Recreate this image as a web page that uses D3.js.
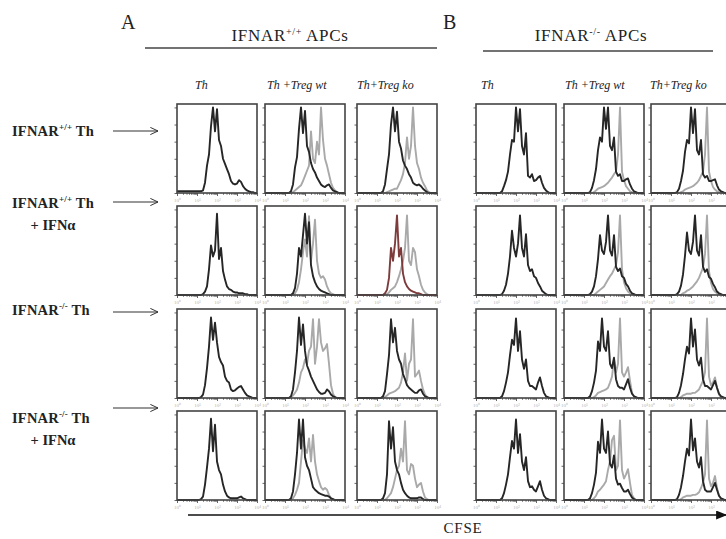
<!DOCTYPE html>
<html><head><meta charset="utf-8">
<script src="https://cdn.jsdelivr.net/npm/d3@7"></script>
<style>
html,body{margin:0;padding:0;background:#fff;}
svg{display:block;}
</style></head><body>
<svg id="fig" width="726" height="539"></svg>
<script>
// ---- data -------------------------------------------------------------
// CFSE bin positions, log10 fluorescence; every histogram below is read on these bins
const cfseBins = [0, 1.0, 1.1, 1.2, 1.3, 1.4, 1.5, 1.6, 1.7, 1.8, 1.9, 2.0, 2.1, 2.2, 2.3, 2.4,
  2.5, 2.6, 2.7, 2.8, 2.9, 3.0, 3.1, 3.2, 3.3, 3.4, 3.5, 3.6, 3.7, 3.8, 3.9, 4.0];
const decadeTicks = [1, 10, 100, 1000, 10000];
const decadeLabels = ["10\u2070", "10\u00b9", "10\u00b2", "10\u00b3", "10\u2074"];

const panelLetters = ["A", "B"];
const groupTitles = [{ main: "IFNAR", sup: "+/+", tail: " APCs" }, { main: "IFNAR", sup: "-/-", tail: " APCs" }];
const columnLabels = ["Th", "Th +Treg wt", "Th+Treg ko", "Th", "Th +Treg wt", "Th+Treg ko"];
const rowLabels = [
  { main: "IFNAR", sup: "+/+", tail: " Th", second: null },
  { main: "IFNAR", sup: "+/+", tail: " Th", second: "+ IFN\u03b1" },
  { main: "IFNAR", sup: "-/-", tail: " Th", second: null },
  { main: "IFNAR", sup: "-/-", tail: " Th", second: "+ IFN\u03b1" }
];
const axisTitle = "CFSE";

// % of max events per bin. "th" = responder Th cells, "tr" = Th cells co-cultured with Treg
// group A: IFNAR+/+ APCs
const thA11 = [2,2,2,2, 3,12,32,45,78,100,72,98,62,55,40,34,28,22,14,11,10,11,15,13,8,5,3,2,1,1,0,0];
const thA12 = [0,0,0,0, 2,10,30,42,75,100,70,96,55,48,35,28,24,18,14,10,8,7,9,10,6,3,2,1,0,0,0,0];
const trA12 = [0,0,0,0, 0,1,3,5,7,9,14,20,26,32,72,40,35,60,45,100,62,40,32,22,12,6,3,1,0,0,0,0];
const thA13 = [0,0,0,0, 2,10,28,45,80,100,72,95,60,52,38,32,28,22,18,12,10,9,10,8,5,3,1,0,0,0,0,0];
const trA13 = [0,0,0,0, 0,0,1,2,3,4,5,5,10,15,22,35,65,40,55,100,55,35,28,18,12,8,3,1,0,0,0,0];
const thA21 = [0,0,0,0, 1,4,10,30,58,45,52,95,42,55,28,18,10,7,6,4,3,3,2,2,2,1,1,0,0,0,0,0];
const thA22 = [0,0,0,0, 0,2,8,25,55,45,70,95,60,85,35,22,15,10,7,5,4,3,2,1,0,0,0,0,0,0,0,0];
const trA22 = [0,0,0,0, 0,0,2,6,15,30,50,65,45,92,40,60,88,40,25,20,22,18,10,5,2,1,0,0,0,0,0,0];
const thA23 = [0,0,0,0, 0,2,6,20,55,40,60,93,45,55,25,15,10,7,5,4,3,2,2,1,0,0,0,0,0,0,0,0];
const trA23 = [0,0,0,0, 0,0,1,3,6,8,10,15,22,30,40,55,93,40,35,55,50,30,22,12,6,3,1,0,0,0,0,0];
const thA31 = [0,0,0,1, 4,15,35,60,94,68,88,65,48,42,38,25,20,18,10,8,9,11,13,14,10,6,3,2,1,0,0,0];
const thA32 = [0,0,0,0, 2,10,30,55,94,62,86,55,38,32,25,20,15,10,7,5,5,6,10,8,4,2,1,0,0,0,0,0];
const trA32 = [0,0,0,0, 1,3,6,10,18,30,35,45,40,55,60,92,40,60,92,65,55,58,63,40,15,5,1,0,0,0,0,0];
const thA33 = [0,0,0,0, 2,8,28,50,92,65,82,55,45,40,28,22,15,12,10,8,6,6,9,10,5,2,1,0,0,0,0,0];
const trA33 = [0,0,0,0, 0,1,3,5,6,7,8,10,12,18,30,52,20,40,45,92,25,28,32,20,10,4,1,0,0,0,0,0];
const thA41 = [0,0,0,1, 4,18,38,60,95,57,88,45,35,30,18,10,5,3,2,2,2,2,3,4,2,1,0,0,0,0,0,0];
const thA42 = [0,0,0,0, 2,10,30,55,94,60,94,50,40,35,25,15,12,10,8,7,6,5,5,4,2,1,0,0,0,0,0,0];
const trA42 = [0,0,0,0, 0,2,6,12,20,45,70,60,55,72,45,76,45,30,22,15,12,14,12,6,2,1,0,0,0,0,0,0];
const thA43 = [0,0,0,0, 2,8,30,92,60,85,45,35,30,20,12,8,5,3,2,2,2,2,3,3,1,0,0,0,0,0,0,0];
const trA43 = [0,0,0,0, 0,0,2,5,8,15,25,35,40,60,45,92,35,30,42,40,25,15,18,20,10,3,1,0,0,0,0,0];
// group B: IFNAR-/- APCs
const thB11 = [0,0,0,0, 2,8,15,25,45,62,60,100,72,98,55,45,70,20,18,22,14,15,18,20,12,6,3,1,0,0,0,0];
const thB12 = [0,0,0,0, 1,6,15,28,50,65,60,100,75,100,55,50,65,25,20,22,14,14,16,17,10,5,2,1,0,0,0,0];
const trB12 = [0,0,0,0, 0,0,1,3,5,6,7,8,10,12,15,18,22,25,45,100,25,15,8,5,2,1,0,0,0,0,0,0];
const thB13 = [0,0,0,0, 1,5,14,26,48,62,58,100,70,98,50,45,62,22,18,20,14,14,15,16,9,4,2,1,0,0,0,0];
const trB13 = [0,0,0,0, 0,0,1,2,4,5,6,7,8,10,12,15,20,25,45,100,25,14,7,4,2,1,0,0,0,0,0,0];
const thB21 = [0,0,0,0, 1,5,12,25,45,75,55,45,60,93,55,45,71,35,28,30,22,20,14,10,5,3,1,0,0,0,0,0];
const thB22 = [0,0,0,0, 1,4,10,22,42,70,52,48,62,93,52,46,70,33,28,31,22,20,13,10,5,2,1,0,0,0,0,0];
const trB22 = [0,0,0,0, 0,0,0,2,4,6,8,10,14,18,22,25,30,35,50,93,30,15,8,4,2,1,0,0,0,0,0,0];
const thB23 = [0,0,0,0, 1,4,11,24,46,73,52,48,62,93,52,46,70,33,27,30,21,19,13,9,4,2,1,0,0,0,0,0];
const trB23 = [0,0,0,0, 0,0,0,2,3,5,6,8,10,13,16,20,26,32,48,93,28,14,7,4,2,1,0,0,0,0,0,0];
const thB31 = [0,0,0,0, 2,8,18,30,50,68,62,93,55,78,45,34,45,20,14,14,12,10,18,24,14,6,2,1,0,0,0,0];
const thB32 = [0,0,0,0, 2,8,18,32,66,55,93,60,55,78,40,35,47,22,14,12,12,10,16,22,12,5,2,1,0,0,0,0];
const trB32 = [0,0,0,0, 0,0,1,3,6,7,8,9,10,12,18,25,45,30,40,93,30,25,30,36,20,6,2,0,0,0,0,0];
const thB33 = [0,0,0,0, 1,6,15,28,45,60,52,93,60,80,45,38,47,22,14,14,12,10,15,20,12,5,2,1,0,0,0,0];
const trB33 = [0,0,0,0, 0,0,1,3,4,5,5,5,6,6,8,10,15,20,30,93,25,15,18,24,12,4,1,0,0,0,0,0];
const thB41 = [0,0,0,0, 2,8,18,30,50,69,60,94,55,77,45,35,50,22,15,16,12,10,16,22,12,5,2,1,0,0,0,0];
const thB42 = [0,0,0,0, 2,8,18,32,68,55,94,60,55,80,42,38,52,25,18,19,14,10,10,12,7,3,1,0,0,0,0,0];
const trB42 = [0,0,0,0, 0,0,2,5,10,12,15,18,22,35,45,70,75,35,40,93,35,25,30,36,20,6,2,0,0,0,0,0];
const thB43 = [0,0,0,0, 1,6,15,28,45,60,52,94,58,72,45,38,50,22,12,10,10,10,15,20,12,5,2,1,0,0,0,0];
const trB43 = [0,0,0,0, 0,0,1,3,4,5,5,5,6,6,7,9,14,20,30,93,25,16,20,28,14,5,1,0,0,0,0,0];

// grid of histograms: row = Th genotype / treatment, col = culture condition
const gridSeries = [
  [[thA11, null], [thA12, trA12], [thA13, trA13], [thB11, null], [thB12, trB12], [thB13, trB13]],
  [[thA21, null], [thA22, trA22], [thA23, trA23], [thB21, null], [thB22, trB22], [thB23, trB23]],
  [[thA31, null], [thA32, trA32], [thA33, trA33], [thB31, null], [thB32, trB32], [thB33, trB33]],
  [[thA41, null], [thA42, trA42], [thA43, trA43], [thB41, null], [thB42, trB42], [thB43, trB43]]
];

// ---- layout -----------------------------------------------------------
const W = 726, H = 539;
const colX = [177, 265, 357, 476, 564, 651];
const rowY = [104, 206, 309, 411];
const panelW = 80, panelH = 89;
const labelShift = [18, 2, 0, 5, 1, -1];
const rowLabelY = [136, 208, 315, 423];
const rowArrowY = [131, 202, 312, 408];
const ink = "#222";
const serif = "'Liberation Serif','Times New Roman',serif";

const svg = d3.select("#fig");
svg.append("rect").attr("width", W).attr("height", H).attr("fill", "#fff");

const defs = svg.append("defs");
defs.append("marker").attr("id", "openHead").attr("viewBox", "0 0 10 10")
  .attr("refX", 9.5).attr("refY", 5).attr("markerWidth", 9).attr("markerHeight", 9)
  .attr("markerUnits", "userSpaceOnUse").attr("orient", "auto")
  .append("path").attr("d", "M1,1 L9.5,5 L1,9").attr("fill", "none")
  .attr("stroke", "#333").attr("stroke-width", 1.1);
defs.append("marker").attr("id", "solidHead").attr("viewBox", "0 0 12 10")
  .attr("refX", 11).attr("refY", 5).attr("markerWidth", 13).attr("markerHeight", 9)
  .attr("markerUnits", "userSpaceOnUse").attr("orient", "auto")
  .append("path").attr("d", "M0,0 L12,5 L0,10 Z").attr("fill", "#111");

const x = d3.scaleLog().domain([1, 10000]).range([0, panelW]);
const y = d3.scaleLinear().domain([0, 104]).range([panelH, 0]);
const minorTicks = [];
for (let k = 0; k < 4; k++) for (let m = 2; m <= 9; m++) minorTicks.push(m * Math.pow(10, k));

const histLine = d3.line()
  .x((d, i) => x(Math.pow(10, cfseBins[i])))
  .y(d => y(d));

// ---- headers ----------------------------------------------------------
function supText(sel, parts, size, supSize) {
  sel.append("tspan").text(parts.main);
  sel.append("tspan").attr("font-size", supSize).attr("dy", -size * 0.38).text(parts.sup);
  sel.append("tspan").attr("dy", size * 0.38).text(parts.tail);
}

const letterX = [121, 443];
const titleX = [290, 591];
const ruleSpan = [[145, 437, 48], [483, 713, 51]];
panelLetters.forEach((L, i) => {
  svg.append("text").attr("x", letterX[i]).attr("y", 29).attr("font-family", serif)
    .attr("font-size", 20).attr("fill", ink).text(L);
  const t = svg.append("text").attr("x", titleX[i]).attr("y", 41).attr("text-anchor", "middle")
    .attr("font-family", serif).attr("font-size", 17).attr("letter-spacing", 0.7).attr("fill", ink);
  supText(t, groupTitles[i], 17, 10);
  svg.append("line").attr("x1", ruleSpan[i][0]).attr("x2", ruleSpan[i][1])
    .attr("y1", ruleSpan[i][2]).attr("y2", ruleSpan[i][2])
    .attr("stroke", "#444").attr("stroke-width", 1.5);
});

columnLabels.forEach((lab, c) => {
  svg.append("text").attr("x", colX[c] + labelShift[c]).attr("y", 89)
    .attr("font-family", serif).attr("font-style", "italic").attr("font-size", 12)
    .attr("fill", ink).text(lab);
});

rowLabels.forEach((r, i) => {
  const t = svg.append("text").attr("x", 12).attr("y", rowLabelY[i])
    .attr("font-family", serif).attr("font-weight", "bold").attr("font-size", 14.5)
    .attr("letter-spacing", 0.2).attr("fill", ink);
  supText(t, r, 14.5, 9);
  if (r.second) {
    svg.append("text").attr("x", 53).attr("y", rowLabelY[i] + 22).attr("text-anchor", "middle")
      .attr("font-family", serif).attr("font-weight", "bold").attr("font-size", 14.5)
      .attr("fill", ink).text(r.second);
  }
  svg.append("line").attr("x1", 113).attr("x2", 158).attr("y1", rowArrowY[i]).attr("y2", rowArrowY[i])
    .attr("stroke", "#333").attr("stroke-width", 1.2).attr("marker-end", "url(#openHead)");
});

// ---- histogram panels -------------------------------------------------
gridSeries.forEach((row, r) => {
  row.forEach((pair, c) => {
    const g = svg.append("g").attr("transform", `translate(${colX[c]},${rowY[r]})`);

    // left (count) axis
    const ya = g.append("g").call(d3.axisLeft(y).ticks(5).tickSize(2.5).tickFormat(""));
    ya.select(".domain").remove();
    ya.selectAll("line").attr("stroke", "#666");

    // bottom (CFSE) axis: decades with labels, minor ticks between
    const xa = g.append("g").attr("transform", `translate(0,${panelH})`)
      .call(d3.axisBottom(x).tickValues(decadeTicks).tickSize(3)
        .tickFormat((d, i) => decadeLabels[i]));
    xa.select(".domain").remove();
    xa.selectAll("line").attr("stroke", "#666");
    xa.selectAll("text").attr("font-size", 5).attr("fill", "#b5b5b5")
      .attr("font-family", serif).attr("dy", "0.5em");
    // labels that would fall past the right edge of the figure are left out
    xa.selectAll(".tick").filter(d => colX[c] + x(d) + 4 > W).select("text").remove();
    const xm = g.append("g").attr("transform", `translate(0,${panelH})`)
      .call(d3.axisBottom(x).tickValues(minorTicks).tickSize(1.8).tickFormat(""));
    xm.select(".domain").remove();
    xm.selectAll("line").attr("stroke", "#777");

    const [th, treg] = pair;
    if (treg) {
      g.append("path").datum(treg).attr("d", histLine).attr("fill", "none")
        .attr("stroke", "#a9a9a9").attr("stroke-width", 1.9).attr("stroke-linejoin", "round");
    }
    const thColor = (r === 1 && c === 2) ? "#7d3b3b" : "#262626";
    g.append("path").datum(th).attr("d", histLine).attr("fill", "none")
      .attr("stroke", thColor).attr("stroke-width", 1.9).attr("stroke-linejoin", "round");

    g.append("rect").attr("width", panelW).attr("height", panelH).attr("fill", "none")
      .attr("stroke", "#444").attr("stroke-width", 1.6);
  });
});

// ---- CFSE axis arrow --------------------------------------------------
svg.append("line").attr("x1", 188).attr("x2", W).attr("y1", 515).attr("y2", 515)
  .attr("stroke", "#111").attr("stroke-width", 1.5).attr("marker-end", "url(#solidHead)");
svg.append("text").attr("x", 463).attr("y", 533).attr("text-anchor", "middle")
  .attr("font-family", serif).attr("font-size", 15).attr("letter-spacing", 0.8)
  .attr("fill", ink).text(axisTitle);
</script>
</body></html>
